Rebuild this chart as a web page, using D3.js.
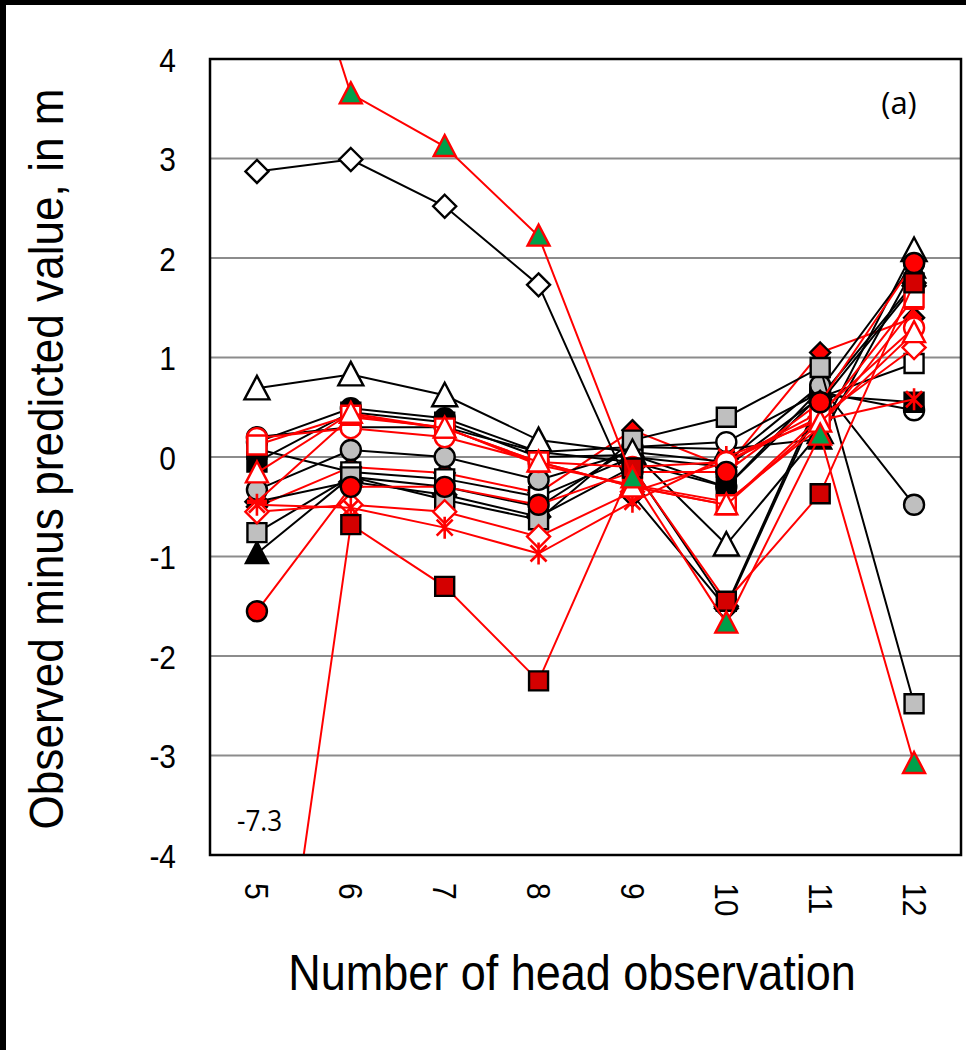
<!DOCTYPE html>
<html>
<head>
<meta charset="utf-8">
<script src="https://cdn.jsdelivr.net/npm/d3@7"></script>
<style>
  html, body { margin: 0; padding: 0; background: #fff; }
  svg { display: block; }
</style>
</head>
<body>
<svg id="chart" width="966" height="1050"></svg>
<script>
// ---------------- DATA ----------------
const observationNumbers = [5, 6, 7, 8, 9, 10, 11, 12];
const yTickValues = [-4, -3, -2, -1, 0, 1, 2, 3, 4];
const gridValues = [-3, -2, -1, 0, 1, 2, 3];

// black-line series
const openDiamond   = [2.87, 2.99, 2.52, 1.73, -0.38, -1.52, 0.55, 1.72];
const openTriangle  = [0.69, 0.83, 0.62, 0.17, 0.05, -0.88, 0.25, 2.08];
const blackSquare   = [-0.05, 0.45, 0.35, 0.00, 0.02, -0.30, 0.62, 0.55];
const greyCircle    = [-0.33, 0.07, 0.00, -0.23, 0.05, -0.05, 0.72, -0.48];
const greySquare    = [-0.76, -0.20, -0.43, -0.63, 0.17, 0.40, 0.90, -2.48];
const blackTriangle = [-0.97, -0.20, -0.30, -0.50, 0.10, 0.08, 0.18, 1.90];
const openCircle    = [0.20, 0.30, 0.30, 0.05, 0.10, 0.15, 0.65, 0.47];
const whiteSquare   = [0.08, -0.15, -0.22, -0.40, 0.00, -0.10, 0.60, 0.94];
const blackCircle   = [0.15, 0.49, 0.39, 0.05, -0.05, -0.30, 0.68, 1.95];
const blackDiamond  = [-0.45, -0.25, -0.38, -0.60, -0.10, -1.50, 0.60, 1.75];

// red-line series
const redDiamond      = [-0.50, -0.10, -0.16, -0.36, 0.27, -0.10, 1.05, 1.40];
const greenTriangle   = [6.6, 3.65, 3.12, 2.22, -0.21, -1.67, 0.22, -3.08];
const redSquare       = [-7.3, -0.68, -1.30, -2.25, -0.11, -1.45, -0.37, 1.75];
const redCircle       = [-1.55, -0.30, -0.30, -0.48, -0.15, -0.15, 0.55, 1.95];
const redOpenCircle   = [0.19, 0.29, 0.20, -0.05, -0.10, -0.05, 0.45, 1.30];
const redOpenSquare   = [0.12, 0.42, 0.29, -0.05, -0.30, -0.48, 0.40, 1.60];
const redOpenTriangle = [-0.16, 0.44, 0.29, -0.05, -0.30, -0.48, 0.35, 1.25];
const redOpenDiamond  = [-0.55, -0.48, -0.55, -0.80, -0.35, -0.05, 0.40, 1.10];
const redAsterisk     = [-0.48, -0.51, -0.71, -0.97, -0.45, 0.00, 0.37, 0.58];
const redDash         = [-0.45, 0.40, 0.30, -0.08, -0.28, -0.45, 0.30, 1.50];

const offScaleLabel = "-7.3";
const panelLabel = "(a)";
const yTitle = "Observed minus predicted value, in m";
const xTitle = "Number of head observation";

// ---------------- STYLE TABLE ----------------
const seriesList = [
  {v: redDiamond,    line: "#ff0000", m: "diamondS", fill: "#ff0000", stroke: "#000"},
  {v: blackDiamond,  line: "#000", m: "diamond",  fill: "#000",    stroke: "#000"},
  {v: blackTriangle, line: "#000", m: "triangle", fill: "#000",    stroke: "#000"},
  {v: whiteSquare,   line: "#000", m: "square",   fill: "#fff",    stroke: "#000"},
  {v: openCircle,    line: "#000", m: "circle",   fill: "#fff",    stroke: "#000"},
  {v: blackCircle,   line: "#000", m: "circle",   fill: "#000",    stroke: "#000"},
  {v: blackSquare,   line: "#000", m: "square",   fill: "#000",    stroke: "#000"},
  {v: greyCircle,    line: "#000", m: "circle",   fill: "#bfbfbf", stroke: "#000"},
  {v: greySquare,    line: "#000", m: "square",   fill: "#bfbfbf", stroke: "#000"},
  {v: openTriangle,  line: "#000", m: "triangleL",fill: "#fff",    stroke: "#000"},
  {v: openDiamond,   line: "#000", m: "diamond",  fill: "#fff",    stroke: "#000"},
  {v: redDash,        line: "#ff0000", m: "dash",     fill: "#ff0000", stroke: "#ff0000"},
  {v: redOpenDiamond, line: "#ff0000", m: "diamond",  fill: "#fff",    stroke: "#ff0000"},
  {v: redAsterisk,    line: "#ff0000", m: "asterisk", fill: "none",    stroke: "#ff0000"},
  {v: redOpenCircle,  line: "#ff0000", m: "circle",   fill: "#fff",    stroke: "#ff0000"},
  {v: redOpenSquare,  line: "#ff0000", m: "square",   fill: "#fff",    stroke: "#ff0000"},
  {v: redOpenTriangle,line: "#ff0000", m: "triangle", fill: "#fff",    stroke: "#ff0000"},
  {v: redCircle,      line: "#ff0000", m: "circle",   fill: "#ff0000", stroke: "#000"},
  {v: redSquare,      line: "#ff0000", m: "square",   fill: "#d40000", stroke: "#000"},
  {v: greenTriangle,  line: "#ff0000", m: "triangle", fill: "#00a04b", stroke: "#ff0000"}
];

// ---------------- LAYOUT ----------------
const svg = d3.select("#chart");
const plot = {left: 210, right: 961, top: 59, bottom: 855};

const x = d3.scalePoint().domain(observationNumbers).range([plot.left, plot.right]).padding(0.5);
const y = d3.scaleLinear().domain([-4, 4]).range([plot.bottom, plot.top]);

// outer black frame (top and left edges)
svg.append("rect").attr("x", 0).attr("y", 0).attr("width", 966).attr("height", 5).attr("fill", "#000");
svg.append("rect").attr("x", 0).attr("y", 0).attr("width", 6).attr("height", 1050).attr("fill", "#000");

// gridlines
svg.append("g").selectAll("line").data(gridValues).join("line")
  .attr("x1", plot.left).attr("x2", plot.right)
  .attr("y1", d => y(d)).attr("y2", d => y(d))
  .attr("stroke", "#8c8c8c").attr("stroke-width", 2);

// clip
svg.append("clipPath").attr("id", "clip").append("rect")
  .attr("x", plot.left).attr("y", plot.top)
  .attr("width", plot.right - plot.left).attr("height", plot.bottom - plot.top);

const FONT = "'Liberation Sans', Arial, sans-serif";

// Y axis
const yAxis = d3.axisLeft(y).tickValues(yTickValues).tickSize(0).tickPadding(0).tickFormat(d3.format("d"));
const yg = svg.append("g").attr("transform", `translate(${plot.left},0)`).call(yAxis);
yg.select(".domain").remove();
yg.selectAll("text")
  .attr("x", null).attr("dy", null)
  .attr("transform", "translate(-34,12) scale(0.88,1)")
  .style("font-family", FONT).style("font-size", "34px").attr("fill", "#000")
  .text(d => d < 0 ? "-" + Math.abs(d) : d);

// X axis
const xAxis = d3.axisBottom(x).tickSize(0).tickPadding(0);
const xg = svg.append("g").attr("transform", `translate(0,${plot.bottom})`).call(xAxis);
xg.select(".domain").remove();
xg.selectAll("text")
  .attr("y", null).attr("dy", null)
  .attr("text-anchor", "start")
  .attr("transform", "translate(-12,28) rotate(90) scale(0.88,1)")
  .style("font-family", FONT).style("font-size", "34px").attr("fill", "#000");

// marker paths
function markerPath(type) {
  switch (type) {
    case "circle": return d3.symbol(d3.symbolCircle, Math.PI * 10 * 10)();
    case "square": return "M-9.5,-9.5H9.5V9.5H-9.5Z";
    case "triangle": return "M0,-11.5L11,9.5L-11,9.5Z";
    case "triangleL": return "M0,-12.5L12.5,11L-12.5,11Z";
    case "diamond": return "M0,-11.5L11.5,0L0,11.5L-11.5,0Z";
    case "diamondS": return "M0,-10L10,0L0,10L-10,0Z";
    case "asterisk": return "M0,-11V11M-8,-8L8,8M-8,8L8,-8";
    case "dash": return "M-10,-2.2H10V2.2H-10Z";
  }
}

const line = d3.line().x((d, i) => x(observationNumbers[i])).y(d => y(d));
const gSeries = svg.append("g");
seriesList.forEach(s => {
  const g = gSeries.append("g");
  g.append("path").attr("d", line(s.v))
    .attr("clip-path", "url(#clip)")
    .attr("fill", "none").attr("stroke", s.line).attr("stroke-width", 2);
  const pts = s.v.map((v, i) => ({v, o: observationNumbers[i]})).filter(p => p.v >= -4 && p.v <= 4);
  g.selectAll("path.mk").data(pts).join("path").attr("class", "mk")
    .attr("d", markerPath(s.m))
    .attr("transform", p => `translate(${x(p.o)},${y(p.v)})`)
    .attr("fill", s.fill).attr("stroke", s.stroke)
    .attr("stroke-width", s.m === "asterisk" ? 2.6 : (s.m === "dash" ? 0 : 2.4))
    .attr("stroke-linejoin", "miter");
});

// plot border
svg.append("rect")
  .attr("x", plot.left).attr("y", plot.top)
  .attr("width", plot.right - plot.left).attr("height", plot.bottom - plot.top)
  .attr("fill", "none").attr("stroke", "#000").attr("stroke-width", 2.5);

// annotations
svg.append("text").attr("x", 899).attr("y", 114).attr("text-anchor", "middle")
  .style("font-family", "'Open Sans', sans-serif").style("font-size", "31px").text(panelLabel);
svg.append("text").attr("x", 237).attr("y", 831)
  .style("font-family", "'Open Sans', sans-serif").style("font-size", "29px")
  .attr("transform", "translate(237,0) scale(0.9,1) translate(-237,0)")
  .text(offScaleLabel);

// axis titles
svg.append("text")
  .attr("transform", "translate(572,990) scale(0.9,1)")
  .attr("text-anchor", "middle")
  .style("font-family", FONT).style("font-size", "50px").text(xTitle);
svg.append("text")
  .attr("transform", "translate(63,459) rotate(-90) scale(0.92,1)")
  .attr("text-anchor", "middle")
  .style("font-family", FONT).style("font-size", "48px").text(yTitle);
</script>
</body>
</html>
